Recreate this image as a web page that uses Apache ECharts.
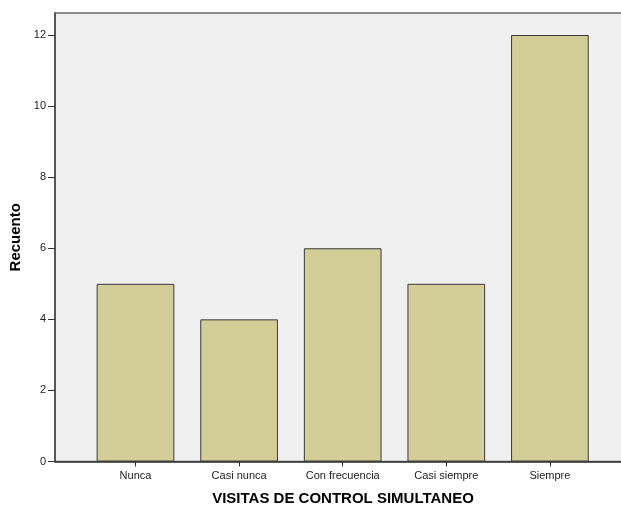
<!DOCTYPE html>
<html><head><meta charset="utf-8">
<script src="https://cdn.jsdelivr.net/npm/echarts@6/dist/echarts.min.js"></script>
<style>html,body{margin:0;padding:0;background:#fff}#c{width:621px;height:506px}</style>
</head><body><div id="c"></div>
<script>
var categories = ['Nunca', 'Casi nunca', 'Con frecuencia', 'Casi siempre', 'Siempre'];
var counts = [5, 4, 6, 5, 12];
var yTicks = [0, 2, 4, 6, 8, 10, 12];
var yMin = 0, yMax = 12.62, yInterval = 2;
var xTitle = 'VISITAS DE CONTROL SIMULTANEO';
var yTitle = 'Recuento';

var chart = echarts.init(document.getElementById('c'), null, {renderer: 'canvas'});
var font = 'Liberation Sans, Arial, sans-serif';
chart.setOption({
  animation: false,
  grid: [
    {left: 55, top: 13, right: -5, bottom: 44.5, outerBoundsMode: 'none', containLabel: false, show: true, backgroundColor: '#f0f0f0', borderColor: '#6a6a6a', borderWidth: 1.5},
    {left: 83.7, top: 13, width: 518, bottom: 44.5, outerBoundsMode: 'none', containLabel: false}
  ],
  xAxis: [
    {gridIndex: 0, type: 'value', min: 0, max: 1, axisLine: {show: true, onZero: false, lineStyle: {color: '#333', width: 1.5}}, axisTick: {show: false}, axisLabel: {show: false}, splitLine: {show: false},
     name: xTitle, nameLocation: 'middle', nameGap: 30, nameTextStyle: {fontFamily: font, fontWeight: 'bold', fontSize: 15, color: '#000', padding: [0, 0, 0, 5]}},
    {gridIndex: 1, type: 'category', data: categories, axisLine: {show: false}, axisTick: {show: true, alignWithLabel: true, length: 5, lineStyle: {color: '#333'}}, axisLabel: {fontFamily: font, fontSize: 11, color: '#222', margin: 9}}
  ],
  yAxis: [
    {gridIndex: 0, type: 'value', min: yMin, max: yMax, interval: yInterval,
     axisLine: {show: true, lineStyle: {color: '#444', width: 1.5}},
     axisTick: {show: true, length: 7, customValues: yTicks, lineStyle: {color: '#333'}},
     axisLabel: {fontFamily: font, fontSize: 11, color: '#222', margin: 9, customValues: yTicks},
     splitLine: {show: false},
     name: yTitle, nameLocation: 'middle', nameGap: 25, nameRotate: 90, nameTextStyle: {fontFamily: font, fontWeight: 'bold', fontSize: 15, color: '#000'}},
    {gridIndex: 1, type: 'value', min: yMin, max: yMax, interval: yInterval, show: false, splitLine: {show: false}}
  ],
  series: [{
    type: 'bar', xAxisIndex: 1, yAxisIndex: 1, data: counts, barWidth: '75%',
    itemStyle: {color: '#d3ce97', borderColor: '#3a3a3a', borderWidth: 1}
  }]
});
</script></body></html>
